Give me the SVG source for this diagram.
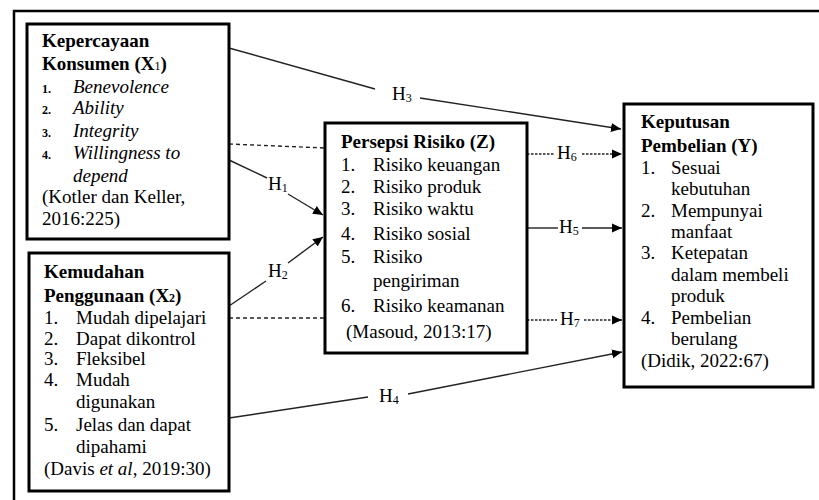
<svg xmlns="http://www.w3.org/2000/svg" width="819" height="500" viewBox="0 0 819 500">
<defs>
<marker id="ah" viewBox="0 0 10 10" refX="10" refY="5" markerWidth="10" markerHeight="10" markerUnits="userSpaceOnUse" orient="auto">
<path d="M0,0.5 L10,5 L0,9.5 z" fill="#000"/>
</marker>
<style>
text{font-family:"Liberation Serif","Times New Roman",serif;font-size:19px;fill:#000}
.b{font-weight:bold}
.i{font-style:italic}
.sn{font-size:12px;font-weight:bold}
.sub{font-size:12px}
.box{fill:#fff;stroke:#000;stroke-width:3}
.ln{stroke:#222;stroke-width:1.4;fill:none}
.ds{stroke:#222;stroke-width:1.4;fill:none;stroke-dasharray:4,3}
.dd{stroke:#222;stroke-width:1.3;fill:none;stroke-dasharray:2.5,1.5}
</style>
</defs>
<rect width="819" height="500" fill="#fff"/>
<path d="M14,500 L14,11 L819,11" fill="none" stroke="#000" stroke-width="2.5"/>

<g id="connectors">
<polyline class="ln" points="229,48 375,89"/>
<polyline class="ln" points="420,98 621,129" marker-end="url(#ah)"/>
<text x="392" y="100">H<tspan class="sub" dy="2">3</tspan></text>
<line class="ds" x1="229" y1="144" x2="325" y2="148"/>
<line class="ln" x1="229" y1="160" x2="267" y2="178"/>
<line class="ln" x1="288" y1="194" x2="323" y2="215" marker-end="url(#ah)"/>
<text x="268" y="190">H<tspan class="sub" dy="2">1</tspan></text>
<line class="ln" x1="229" y1="306" x2="266" y2="281"/>
<line class="ln" x1="288" y1="263" x2="323" y2="237" marker-end="url(#ah)"/>
<text x="268" y="277">H<tspan class="sub" dy="2">2</tspan></text>
<line class="ds" x1="229" y1="318" x2="325" y2="318"/>
<line class="ln" x1="229" y1="418" x2="368" y2="397"/>
<line class="ln" x1="408" y1="394" x2="622" y2="352" marker-end="url(#ah)"/>
<text x="379" y="402">H<tspan class="sub" dy="2">4</tspan></text>
<line class="dd" x1="527" y1="154" x2="555" y2="154"/>
<line class="dd" x1="582" y1="154" x2="622" y2="154" marker-end="url(#ah)"/>
<text x="557" y="159">H<tspan class="sub" dy="2">6</tspan></text>
<line class="ln" x1="527" y1="228" x2="558" y2="228"/>
<line class="ln" x1="582" y1="228" x2="622" y2="228" marker-end="url(#ah)"/>
<text x="559" y="233">H<tspan class="sub" dy="2">5</tspan></text>
<line class="dd" x1="527" y1="320" x2="557" y2="320"/>
<line class="dd" x1="584" y1="320" x2="622" y2="320" marker-end="url(#ah)"/>
<text x="560" y="325">H<tspan class="sub" dy="2">7</tspan></text>
</g>

<g id="x1">
<rect class="box" x="27" y="24" width="202" height="215"/>
<text class="b" x="42" y="47">Kepercayaan</text>
<text class="b" x="42" y="70">Konsumen (X<tspan class="sub" font-weight="normal">1</tspan>)</text>
<text class="sn" x="42" y="93">1.</text><text class="i" x="73" y="93">Benevolence</text>
<text class="sn" x="42" y="114">2.</text><text class="i" x="73" y="114">Ability</text>
<text class="sn" x="42" y="137">3.</text><text class="i" x="73" y="137">Integrity</text>
<text class="sn" x="42" y="159">4.</text><text class="i" x="73" y="159">Willingness to</text>
<text class="i" x="73" y="182">depend</text>
<text x="42" y="203">(Kotler dan Keller,</text>
<text x="42" y="225">2016:225)</text>
</g>

<g id="x2">
<rect class="box" x="29" y="253" width="200" height="238"/>
<text class="b" x="44" y="278">Kemudahan</text>
<text class="b" x="44" y="302">Penggunaan (X<tspan class="sub">2</tspan>)</text>
<text x="44" y="324">1.</text><text x="76" y="324">Mudah dipelajari</text>
<text x="44" y="345">2.</text><text x="76" y="345">Dapat dikontrol</text>
<text x="44" y="365">3.</text><text x="76" y="365">Fleksibel</text>
<text x="44" y="386">4.</text><text x="76" y="386">Mudah</text>
<text x="76" y="408">digunakan</text>
<text x="44" y="431">5.</text><text x="76" y="431">Jelas dan dapat</text>
<text x="76" y="453">dipahami</text>
<text x="44" y="475">(Davis <tspan class="i">et al</tspan>, 2019:30)</text>
</g>

<g id="z">
<rect class="box" x="325" y="123" width="202" height="230"/>
<text class="b" x="341" y="148">Persepsi Risiko (Z)</text>
<text x="341" y="171">1.</text><text x="373" y="171">Risiko keuangan</text>
<text x="341" y="193">2.</text><text x="373" y="193">Risiko produk</text>
<text x="341" y="215">3.</text><text x="373" y="215">Risiko waktu</text>
<text x="341" y="240">4.</text><text x="373" y="240">Risiko sosial</text>
<text x="341" y="263">5.</text><text x="373" y="263">Risiko</text>
<text x="373" y="287">pengiriman</text>
<text x="341" y="312">6.</text><text x="373" y="312">Risiko keamanan</text>
<text x="346" y="338">(Masoud, 2013:17)</text>
</g>

<g id="y">
<rect class="box" x="624" y="104" width="189" height="283"/>
<text class="b" x="641" y="128">Keputusan</text>
<text class="b" x="641" y="152">Pembelian (Y)</text>
<text x="641" y="174">1.</text><text x="671" y="174">Sesuai</text>
<text x="671" y="195">kebutuhan</text>
<text x="641" y="217">2.</text><text x="671" y="217">Mempunyai</text>
<text x="671" y="238">manfaat</text>
<text x="641" y="259">3.</text><text x="671" y="259">Ketepatan</text>
<text x="671" y="281">dalam membeli</text>
<text x="671" y="302">produk</text>
<text x="641" y="324">4.</text><text x="671" y="324">Pembelian</text>
<text x="671" y="345">berulang</text>
<text x="641" y="367">(Didik, 2022:67)</text>
</g>
</svg>
